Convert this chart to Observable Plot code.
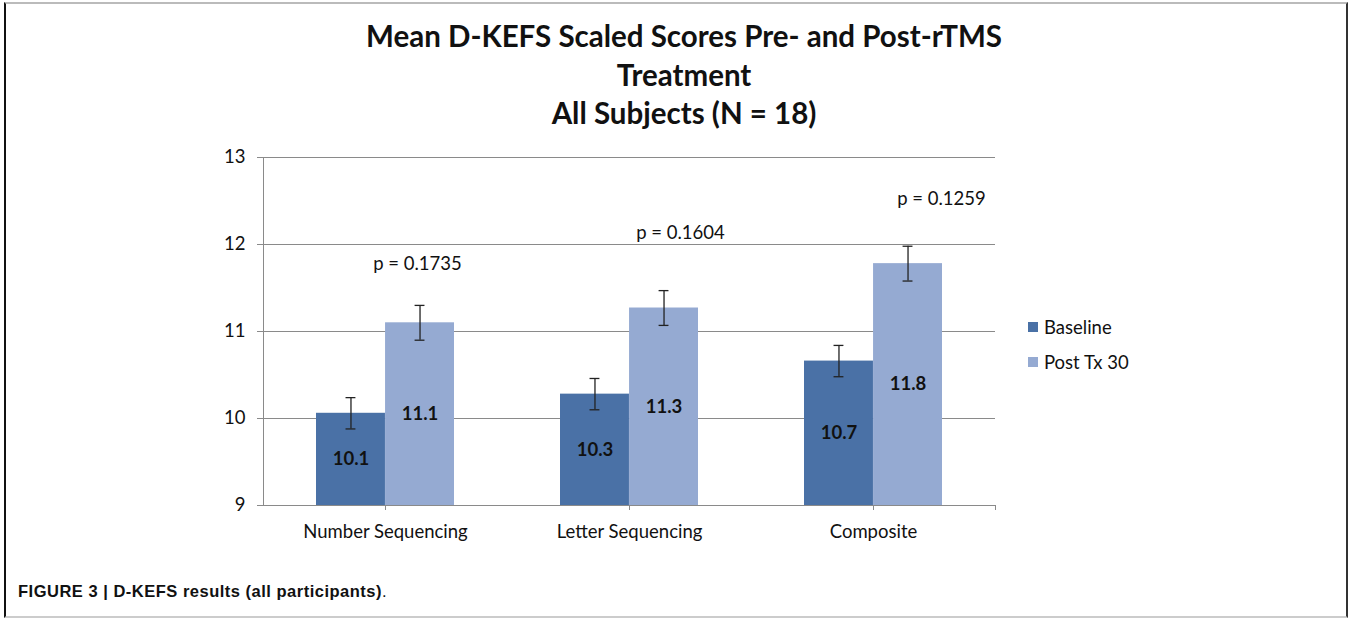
<!DOCTYPE html>
<html>
<head>
<meta charset="utf-8">
<script src="https://cdn.jsdelivr.net/npm/d3@7"></script>
<script src="https://cdn.jsdelivr.net/npm/@observablehq/plot@0.6"></script>
<style>
  html, body { margin: 0; padding: 0; background: #fff; }
  #fig { position: relative; width: 1352px; height: 621px; overflow: hidden; font-family: Lato, "Open Sans", sans-serif; }
  #frame { position: absolute; left: 4px; top: 2px; width: 1344px; height: 616px;
           border-left: 2px solid #111; border-right: 2px solid #333; border-top: 2px solid #bbb; border-bottom: 2px solid #ccc; box-sizing: border-box; }
  #title { position: absolute; left: 0; width: 1368px; top: 17px; text-align: center; font-weight: bold; font-size: 29.5px; line-height: 38.5px; color: #111; }
  #chart { position: absolute; left: 0; top: 140px; }
  .leg { position: absolute; left: 1028px; font-size: 18.5px; color: #111; display: flex; align-items: center; }
  .leg span.sw { display: inline-block; width: 10px; height: 10px; margin-right: 6px; }
  #caption { position: absolute; left: 18px; top: 582px; font-family: "Liberation Sans", Arial, sans-serif; font-size: 16.5px; letter-spacing: 0.5px; color: #111; }
</style>
</head>
<body>
<div id="fig">
  <div id="frame"></div>
  <div id="title">Mean D-KEFS Scaled Scores Pre- and Post-rTMS<br>Treatment<br>All Subjects (N = 18)</div>
  <div id="chart"></div>
  <div class="leg" style="top:316px"><span class="sw" style="background:#4a71a6"></span>Baseline</div>
  <div class="leg" style="top:351px"><span class="sw" style="background:#95aad2"></span>Post Tx 30</div>
  <div id="caption"><b>FIGURE 3 | D-KEFS results (all participants)</b>.</div>
</div>
<script>
// ---- data ----
const categories = ["Number Sequencing", "Letter Sequencing", "Composite"];
const series = ["Baseline", "Post Tx 30"];
const baselineMean = [10.06, 10.28, 10.66];
const baselineSE = [0.18, 0.18, 0.18];
const postMean = [11.10, 11.27, 11.78];
const postSE = [0.20, 0.20, 0.20];
const pValues = ["p = 0.1735", "p = 0.1604", "p = 0.1259"];
const yTicks = [9, 10, 11, 12, 13];

// ---- table built from arrays ----
const rows = [];
categories.forEach((c, i) => {
  rows.push({category: c, series: series[0], value: baselineMean[i], se: baselineSE[i]});
  rows.push({category: c, series: series[1], value: postMean[i], se: postSE[i]});
});
const base = rows.filter(d => d.series === series[0]);
const post = rows.filter(d => d.series === series[1]);

// ---- layout ----
const W = 1352, H = 410, ML = 263, MR = 357, MT = 17, MB = 45;
const pIn = 0.434, pOut = 0.217;
const step = (W - ML - MR) / (categories.length - pIn + 2 * pOut);
const bw = step * (1 - pIn);
const half = bw / 2, q = bw / 4, cap = 5;
const yMin = yTicks[0];
const colors = {"Baseline": "#4a71a6", "Post Tx 30": "#95aad2"};
const FS = 18.5;

// p-value annotation placement (label anchor in data units + pixel offset)
const pAnnot = categories.map((c, i) => ({category: c, label: pValues[i]}));
const pY = [11.78, 12.13, 12.52];
const pDx = [32, 51, 68];

const plot = Plot.plot({
  width: W, height: H,
  marginLeft: ML, marginRight: MR, marginTop: MT, marginBottom: MB,
  style: {fontFamily: "Lato, 'Open Sans', sans-serif", fontSize: FS + "px", color: "#111", background: "transparent"},
  x: {domain: categories, paddingInner: pIn, paddingOuter: pOut, label: null},
  y: {domain: [9, 13], ticks: yTicks, label: null},
  marks: [
    Plot.gridY(yTicks.slice(1), {stroke: "#8a8a8a", strokeOpacity: 1, strokeWidth: 1}),
    Plot.barY(base, {x: "category", y1: yMin, y2: "value", fill: d => colors[d.series], insetRight: half}),
    Plot.barY(post, {x: "category", y1: yMin, y2: "value", fill: d => colors[d.series], insetLeft: half}),
    // error bars
    Plot.ruleX(base, {x: "category", y1: d => d.value - d.se, y2: d => d.value + d.se, dx: -q, stroke: "#222", strokeWidth: 1.3}),
    Plot.ruleX(post, {x: "category", y1: d => d.value - d.se, y2: d => d.value + d.se, dx: q, stroke: "#222", strokeWidth: 1.3}),
    Plot.tickY(base, {x: "category", y: d => d.value + d.se, insetLeft: q - cap, insetRight: bw - q - cap, stroke: "#222", strokeWidth: 1.3}),
    Plot.tickY(base, {x: "category", y: d => d.value - d.se, insetLeft: q - cap, insetRight: bw - q - cap, stroke: "#222", strokeWidth: 1.3}),
    Plot.tickY(post, {x: "category", y: d => d.value + d.se, insetLeft: bw - q - cap, insetRight: q - cap, stroke: "#222", strokeWidth: 1.3}),
    Plot.tickY(post, {x: "category", y: d => d.value - d.se, insetLeft: bw - q - cap, insetRight: q - cap, stroke: "#222", strokeWidth: 1.3}),
    // value labels
    Plot.text(base, {x: "category", y: d => (yMin + d.value) / 2, text: d => d.value.toFixed(1), dx: -q, fontWeight: "bold", fontSize: FS, fill: "#111"}),
    Plot.text(post, {x: "category", y: d => (yMin + d.value) / 2, text: d => d.value.toFixed(1), dx: q, fontWeight: "bold", fontSize: FS, fill: "#111"}),
    // p values
    ...pAnnot.map((d, i) => Plot.text([d], {x: "category", y: () => pY[i], text: "label", dx: pDx[i], fontSize: FS, fill: "#111"})),
    // axes
    Plot.axisY({ticks: yTicks, tickFormat: d3.format("d"), tickSize: 6, tickPadding: 12, stroke: "#8a8a8a", fill: "#111", fontSize: FS}),
    Plot.axisX({tickSize: 5, tickPadding: 14, stroke: "#8a8a8a", fill: "#111", fontSize: FS}),
    Plot.ruleX([categories[0]], {x: d => d, y1: 9, y2: 13, stroke: "#8a8a8a", dx: -(bw / 2 + step * pOut)}),
    Plot.ruleX([categories[categories.length - 1]], {x: d => d, y1: 9, y2: 9, insetBottom: -5, stroke: "#8a8a8a", dx: bw / 2 + step * pOut}),
    Plot.ruleY([yMin], {stroke: "#8a8a8a"})
  ]
});
document.getElementById("chart").appendChild(plot);
</script>
</body>
</html>
